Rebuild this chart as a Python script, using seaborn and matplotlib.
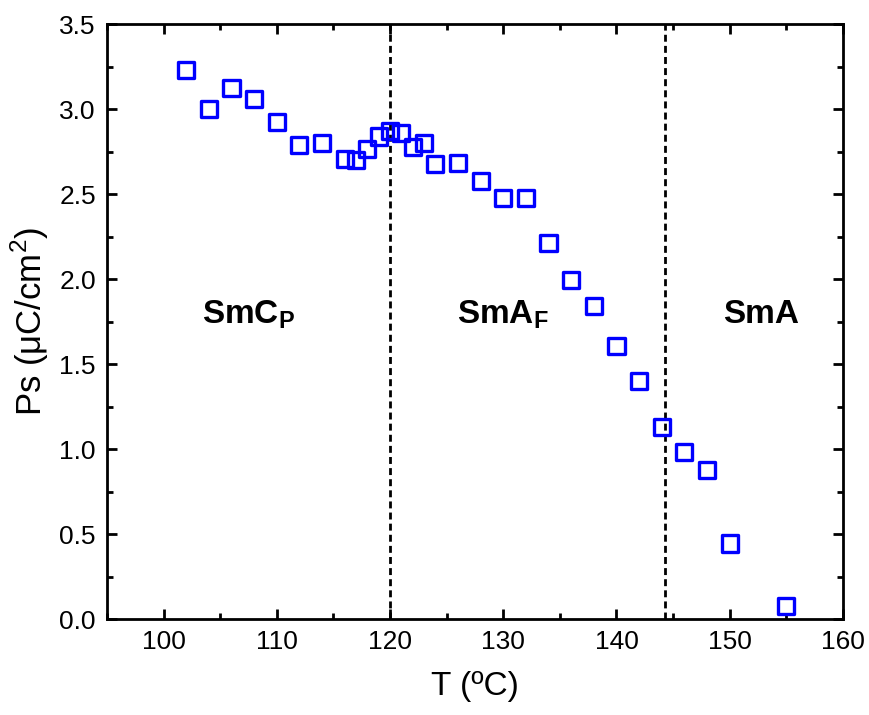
import matplotlib
matplotlib.use("Agg")
import matplotlib.pyplot as plt
import seaborn as sns
import pandas as pd
from matplotlib.ticker import MultipleLocator

temperature = [102, 104, 106, 108, 110, 112, 114, 116, 117, 118, 119, 120, 121, 122, 123,
               124, 126, 128, 130, 132, 134, 136, 138, 140, 142, 144, 146, 148, 150, 155]
ps_values = [3.23, 3.00, 3.125, 3.06, 2.925, 2.79, 2.80, 2.71, 2.70, 2.765, 2.84, 2.87, 2.86, 2.78, 2.80,
             2.68, 2.685, 2.576, 2.48, 2.48, 2.214, 1.994, 1.841, 1.608, 1.402, 1.13, 0.982, 0.88, 0.445, 0.08]
transitions = [120.0, 144.3]
phase_labels = ["SmC$_\\mathbf{P}$", "SmA$_\\mathbf{F}$", "SmA"]
phase_x = [107.5, 130.0, 152.8]
phase_y = [1.79, 1.79, 1.79]

sns.set_style("ticks")
plt.rcParams['font.family'] = ['Liberation Sans', 'DejaVu Sans']
plt.rcParams['mathtext.fontset'] = 'custom'
plt.rcParams['mathtext.rm'] = 'Liberation Sans'
plt.rcParams['mathtext.bf'] = 'Liberation Sans:bold'
for key in ['text.color', 'axes.labelcolor', 'xtick.color', 'ytick.color', 'axes.edgecolor']:
    plt.rcParams[key] = 'black'

df = pd.DataFrame({"T": temperature, "Ps": ps_values})

fig = plt.figure(figsize=(8.69, 7.15), dpi=100)
ax = fig.add_axes([0.123, 0.134, 0.847, 0.832])

for xv in transitions:
    ax.axvline(xv, color="black", linestyle=(0, (2.5, 1.5)), linewidth=2.0, zorder=1)

sns.scatterplot(data=df, x="T", y="Ps", marker="s", s=135, facecolor="none",
                edgecolor="#0000FF", linewidth=2.4, ax=ax, zorder=3, legend=False)

for lab, xv, yv in zip(phase_labels, phase_x, phase_y):
    ax.text(xv, yv, lab, fontsize=24, fontweight="bold", ha="center", va="center")

ax.set_xlim(95, 160)
ax.set_ylim(0, 3.5)
ax.xaxis.set_major_locator(MultipleLocator(10))
ax.xaxis.set_minor_locator(MultipleLocator(5))
ax.yaxis.set_major_locator(MultipleLocator(0.5))
ax.yaxis.set_minor_locator(MultipleLocator(0.25))
ax.yaxis.set_major_formatter(matplotlib.ticker.FormatStrFormatter('%.1f'))

for sp in ax.spines.values():
    sp.set_linewidth(2.0)
    sp.set_visible(True)
ax.tick_params(which="both", direction="in", top=True, right=True, width=2.0)
ax.tick_params(which="major", length=7, labelsize=19, pad=8)
ax.tick_params(which="minor", length=4)

ax.set_xlabel("T (ºC)", fontsize=24, labelpad=12)
ax.set_ylabel("Ps (μC/cm$^2$)", fontsize=25, labelpad=6)

fig.savefig("out.png", dpi=100)
